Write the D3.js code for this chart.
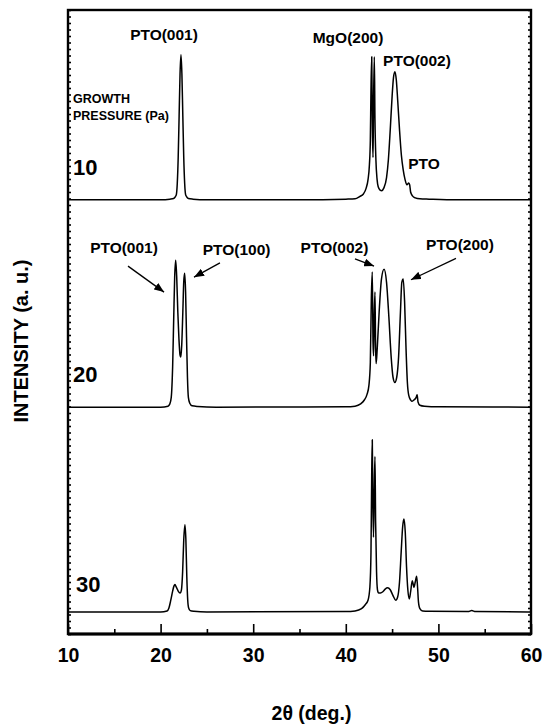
<!DOCTYPE html>
<html>
<head>
<meta charset="utf-8">
<script src="https://d3js.org/d3.v7.min.js"></script>
<style>
  body { margin: 0; background: #fff; }
  text { font-family: "Liberation Sans", Arial, sans-serif; font-weight: bold; fill: #000; }
</style>
</head>
<body>
<svg width="543" height="728"></svg>
<script>
// XRD scans, 2theta (deg) vs intensity (a.u., above each scan's own baseline)
// growth pressure 10 Pa
var scan10 = [[10,0],[15,0],[20,0],[21.0,1],[21.4,2],[21.6,5],[21.7,8],[21.8,25],[21.9,65],[22.0,129],
  [22.1,194],[22.2,223],[22.3,194],[22.4,129],[22.5,65],[22.6,25],[22.7,8],[22.8,5],[23.0,2],[23.5,1],
  [25,0],[30,0],[35,0],[40,1],[41.0,1.5],[41.5,5],[41.9,9],[42.2,18],[42.4,31],[42.55,54],[42.65,92],
  [42.72,169],[42.8,220],[42.87,108],[42.94,65],[43.0,154],[43.08,220],[43.15,123],[43.25,62],[43.38,31],
  [43.5,20],[43.7,15],[43.88,14],[44.1,18],[44.4,34],[44.6,62],[44.8,108],[45.0,159],[45.15,188],[45.3,197],
  [45.45,185],[45.6,154],[45.8,108],[46.0,69],[46.2,46],[46.4,31],[46.6,23],[46.8,26],[46.9,23],[47.0,12],
  [47.2,6],[47.5,3],[48,1.5],[49,1],[52,0],[60,0]];

// growth pressure 20 Pa
var scan20 = [[10,0],[20,0],[20.8,1.5],[21.0,5],[21.15,15],[21.3,62],[21.42,139],[21.52,200],[21.63,226],
  [21.74,200],[21.86,146],[21.98,105],[22.1,80],[22.18,77],[22.28,95],[22.4,146],[22.5,193],[22.6,206],
  [22.7,177],[22.8,108],[22.9,46],[23.0,15],[23.15,6],[23.4,2],[24,1],[26,0],[40,0.5],[41,1.5],[41.6,5],
  [42.0,11],[42.3,20],[42.5,34],[42.65,69],[42.76,169],[42.86,208],[42.94,100],[43.0,79],[43.07,140],
  [43.15,177],[43.22,90],[43.28,67],[43.4,92],[43.6,146],[43.85,197],[44.13,212],[44.4,192],[44.65,139],
  [44.9,77],[45.1,46],[45.3,38],[45.5,46],[45.7,77],[45.9,146],[46.05,192],[46.2,197],[46.35,162],
  [46.5,92],[46.65,38],[46.8,18],[47.0,11],[47.12,9],[47.35,11],[47.6,15],[47.7,19],[47.8,8],[48.0,3],
  [48.5,1.5],[50,0.5],[60,0]];

// growth pressure 30 Pa
var scan30 = [[10,0],[20,0],[20.7,1.5],[20.9,6],[21.1,18],[21.3,32],[21.45,40],[21.55,42],[21.7,38],
  [21.9,32],[22.1,29],[22.25,34],[22.38,62],[22.5,111],[22.63,134],[22.73,111],[22.83,54],[22.93,18],
  [23.03,6],[23.2,2],[23.6,1],[25,0],[40,0.5],[41,1.5],[41.7,5],[42.1,11],[42.4,18],[42.6,38],[42.72,92],
  [42.8,215],[42.86,265],[42.92,170],[42.99,115],[43.07,185],[43.15,239],[43.22,139],[43.32,62],[43.42,34],
  [43.55,29],[43.75,29],[44.0,31],[44.25,35],[44.52,37],[44.8,34],[45.1,25],[45.39,18],[45.6,23],[45.8,46],
  [45.98,92],[46.14,131],[46.28,143],[46.42,123],[46.56,69],[46.7,34],[46.86,20],[47.0,31],[47.18,48],
  [47.27,43],[47.36,38],[47.5,46],[47.65,55],[47.75,38],[47.85,15],[48.0,5],[48.3,1.5],[49,1],[53.2,0.5],
  [53.6,2],[54.0,0.5],[60,0]];

var pressures = ["10", "20", "30"];
var offsets = [668, 349, 34];   // vertical shift of each scan (a.u.)
var xTicks = [10, 20, 30, 40, 50, 60];

// peak labels: text, 2theta, a.u.
var peakLabels = [
  ["PTO(001)", 20.37, 914], ["MgO(200)", 40.24, 909], ["PTO(002)", 47.69, 874], ["PTO", 48.44, 715],
  ["PTO(001)", 16.05, 586], ["PTO(100)", 28.2, 583], ["PTO(002)", 38.78, 586], ["PTO(200)", 52.33, 591]
];
// arrows: from (2theta, a.u.) to (2theta, a.u.)
var arrows = [
  [16.48, 566, 20.37, 526], [26.41, 571, 23.61, 549],
  [40.99, 577, 43.05, 566], [51.9, 578, 47.04, 545]
];
// pressure labels position (2theta, a.u.)
var pressureLabelPos = [[10.54, 706], [10.54, 388], [10.86, 65]];

var svg = d3.select("svg"),
    width = +svg.attr("width"),
    height = +svg.attr("height"),
    margin = {top: 10, right: 12, bottom: 94, left: 68};

var x = d3.scaleLinear().domain([10, 60]).range([margin.left, width - margin.right]);
var y = d3.scaleLinear().domain([0, 960]).range([height - margin.bottom, margin.top]);

svg.append("defs").append("marker")
    .attr("id", "head")
    .attr("markerUnits", "userSpaceOnUse")
    .attr("markerWidth", 11).attr("markerHeight", 8)
    .attr("refX", 10).attr("refY", 4)
    .attr("orient", "auto")
  .append("path")
    .attr("d", "M0,0 L10,4 L0,8 Z")
    .attr("fill", "#000");

// scans
[scan10, scan20, scan30].forEach(function(scan, i) {
  var line = d3.line()
      .curve(d3.curveMonotoneX)
      .x(function(d) { return x(d[0]); })
      .y(function(d) { return y(d[1] + offsets[i]); });
  svg.append("path")
      .datum(scan)
      .attr("fill", "none")
      .attr("stroke", "#000")
      .attr("stroke-width", 1.5)
      .attr("stroke-linejoin", "round")
      .attr("d", line);
});

// axes (ticks inside)
var gx = svg.append("g")
    .attr("transform", "translate(0," + y(0) + ")")
    .call(d3.axisBottom(x).tickValues(xTicks).tickSize(-10).tickPadding(14).tickFormat(d3.format("d")));
svg.append("g")
    .attr("transform", "translate(0," + y(0) + ")")
    .call(d3.axisBottom(x).tickValues([15, 25, 35, 45, 55]).tickSize(-5).tickFormat(""))
    .call(function(g) { g.select(".domain").remove(); });
svg.append("g")
    .attr("transform", "translate(" + x(10) + ",0)")
    .call(d3.axisLeft(y).tickValues(d3.range(0, 961, 10)).tickSize(-3).tickFormat(""));
svg.append("g")
    .attr("transform", "translate(" + x(60) + ",0)")
    .call(d3.axisRight(y).tickValues(d3.range(0, 961, 10)).tickSize(-3).tickFormat(""));

svg.selectAll(".tick line").attr("stroke", "#000").attr("stroke-width", 1.6);
svg.selectAll(".domain").attr("stroke", "none");
gx.selectAll("text").style("font-size", "19.5px").attr("font-family", null).attr("fill", "#000");

// frame
svg.append("rect")
    .attr("x", x(10)).attr("y", y(960))
    .attr("width", x(60) - x(10)).attr("height", y(0) - y(960))
    .attr("fill", "none").attr("stroke", "#000").attr("stroke-width", 2.4);
svg.append("line")
    .attr("x1", x(10)).attr("x2", x(60)).attr("y1", y(0)).attr("y2", y(0))
    .attr("stroke", "#000").attr("stroke-width", 3);

// axis titles
svg.append("text")
    .attr("x", (x(10) + x(60)) / 2 + 12).attr("y", 720)
    .attr("text-anchor", "middle")
    .style("font-size", "19.5px")
    .text("2\u03b8 (deg.)");
svg.append("text")
    .attr("transform", "translate(28," + ((y(0) + y(960)) / 2 + 19) + ") rotate(-90)")
    .attr("text-anchor", "middle")
    .style("font-size", "20px")
    .text("INTENSITY (a. u.)");

// annotations
svg.selectAll(".peak")
  .data(peakLabels)
  .enter().append("text")
    .attr("class", "peak")
    .attr("x", function(d) { return x(d[1]); })
    .attr("y", function(d) { return y(d[2]); })
    .attr("text-anchor", "middle")
    .style("font-size", "15.5px")
    .text(function(d) { return d[0]; });

svg.selectAll(".arrow")
  .data(arrows)
  .enter().append("line")
    .attr("class", "arrow")
    .attr("x1", function(d) { return x(d[0]); })
    .attr("y1", function(d) { return y(d[1]); })
    .attr("x2", function(d) { return x(d[2]); })
    .attr("y2", function(d) { return y(d[3]); })
    .attr("stroke", "#000")
    .attr("stroke-width", 1.3)
    .attr("marker-end", "url(#head)");

svg.selectAll(".pressure")
  .data(pressures)
  .enter().append("text")
    .attr("class", "pressure")
    .attr("x", function(d, i) { return x(pressureLabelPos[i][0]); })
    .attr("y", function(d, i) { return y(pressureLabelPos[i][1]); })
    .style("font-size", "22px")
    .text(function(d) { return d; });

var gp = svg.append("text")
    .attr("x", x(10.54)).attr("y", y(817))
    .style("font-size", "12.5px");
gp.append("tspan").text("GROWTH");
gp.append("tspan").attr("x", x(10.54)).attr("dy", 17).text("PRESSURE (Pa)");
</script>
</body>
</html>
